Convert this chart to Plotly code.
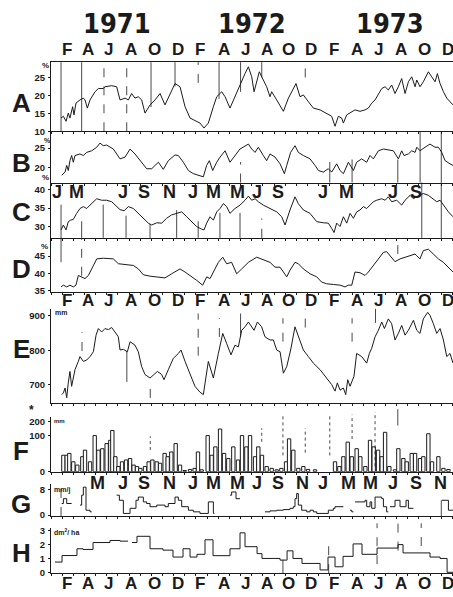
import plotly.graph_objects as go

# ---------------- DATA (x in months since 1 Jan 1971) ----------------
years = ["1971", "1972", "1973"]
year_pos = [5.9, 18.0, 30.4]

main_labels = ["F", "A", "J", "A", "O", "D"] * 3
main_pos = [1.4, 3.3, 5.2, 7.2, 9.3, 11.4, 13.4, 15.5, 17.4, 19.4, 21.3, 23.3,
            25.4, 27.4, 29.4, 31.4, 33.5, 35.6]
c_labels = ["J", "M", "J", "S", "N", "J", "M", "M", "J", "S", "J", "M", "J", "S"]
c_pos = [0.54, 2.33, 6.46, 8.34, 10.67, 12.74, 14.53, 16.68, 18.48, 20.36,
         24.39, 26.46, 30.67, 32.74]
g_labels = ["M", "J", "S", "N", "J", "M", "M", "J", "S", "N", "J", "M", "M", "J", "S", "N"]
g_pos = [4.13, 6.46, 8.34, 10.67, 12.74, 14.53, 16.68, 18.48, 20.36, 22.51,
         24.39, 26.64, 28.61, 30.67, 32.74, 34.89]

a_x = [0.90, 1.11, 1.35, 1.55, 1.70, 1.94, 2.06, 2.24, 2.60, 2.90, 3.05, 3.26, 3.50, 3.95, 4.25,
       4.69, 4.84, 5.44, 5.89, 6.19, 6.64, 6.94, 7.23, 7.53, 7.83, 8.13, 8.43, 8.88, 9.33, 9.78,
       10.22, 10.67, 11.12, 11.57, 12.02, 12.47, 13.06, 13.36, 13.72, 14.11, 14.56, 14.86, 15.31,
       15.61, 16.05, 16.50, 16.95, 17.40, 17.70, 18.00, 18.21, 18.45, 18.68, 19.04, 19.34, 19.64,
       19.79, 20.24, 20.84, 21.29, 21.58, 21.97, 22.33, 22.63, 23.08, 23.53, 24.13, 24.72, 25.17,
       25.47, 25.77, 26.07, 26.22, 26.52, 26.97, 27.26, 27.71, 28.16, 28.46, 28.76, 29.06, 29.36,
       29.66, 29.96, 30.25, 30.55, 30.85, 31.15, 31.45, 31.75, 32.05, 32.35, 32.65, 32.80, 33.09,
       33.39, 33.84, 34.14, 34.44, 34.65, 34.89, 35.19, 35.49, 35.78, 36.05]
a_v = [13.7, 14.2, 12.8, 15.1, 13.7, 16.9, 14.6, 17.9, 18.8, 19.3, 18.8, 16.5, 18.8, 21.1, 22.0,
       22.0, 22.5, 22.8, 22.5, 18.8, 19.3, 18.8, 20.6, 19.3, 19.7, 18.8, 15.1, 17.4, 18.8, 20.6,
       17.4, 20.6, 23.4, 22.5, 16.9, 13.7, 12.8, 12.3, 10.9, 12.3, 16.9, 19.7, 21.1, 19.7, 16.5,
       19.7, 23.4, 26.2, 28.1, 25.3, 21.1, 24.4, 26.7, 24.4, 22.5, 19.7, 21.1, 18.8, 15.6, 19.3,
       21.1, 23.4, 19.7, 20.2, 18.3, 16.5, 16.0, 15.1, 14.2, 11.4, 14.2, 13.7, 12.3, 14.6, 15.6,
       16.0, 15.6, 16.0, 16.5, 17.9, 18.8, 20.6, 22.0, 22.5, 21.6, 23.0, 20.6, 22.5, 24.8, 20.6,
       23.9, 25.3, 22.5, 24.4, 22.5, 23.9, 26.7, 25.3, 23.9, 26.2, 23.4, 21.1, 19.3, 18.3, 17.4]

b_x = [0.96, 1.26, 1.41, 1.55, 1.70, 1.85, 2.00, 2.15, 2.60, 2.90, 3.20, 3.65, 4.10, 4.39, 4.69,
       4.99, 5.59, 6.19, 6.64, 7.09, 7.53, 8.13, 8.58, 9.03, 9.33, 9.63, 10.07, 10.52, 11.12,
       11.42, 11.87, 12.32, 12.77, 13.21, 13.66, 13.96, 14.20, 14.50, 14.86, 15.16, 15.61, 16.05,
       16.50, 16.95, 17.70, 18.00, 18.30, 18.59, 19.04, 19.34, 19.64, 20.09, 20.54, 20.93, 21.14,
       21.49, 21.88, 22.18, 22.63, 23.23, 23.68, 23.98, 24.42, 24.87, 25.17, 25.62, 25.92, 26.22,
       26.67, 26.97, 27.12, 27.41, 27.86, 28.31, 28.61, 28.91, 29.36, 29.81, 30.25, 30.70, 31.15,
       31.45, 31.66, 32.05, 32.35, 32.65, 32.80, 33.09, 33.54, 33.99, 34.44, 34.74, 35.04, 35.34,
       35.78, 36.05]
b_v = [18.1, 18.9, 20.6, 19.3, 21.8, 23.1, 21.4, 23.1, 23.5, 23.1, 23.9, 24.3, 25.2, 26.25, 25.6,
       25.75, 24.75, 22.25, 22.7, 24.75, 23.5, 21.4, 19.75, 19.75, 20.6, 21.4, 19.6, 21.8, 23.25,
       23.1, 21.4, 19.3, 18.5, 18.1, 17.7, 20.6, 21.8, 19.3, 21.4, 22.7, 24.3, 21.4, 23.1, 24.75,
       26.0, 24.75, 23.9, 25.2, 23.1, 21.8, 23.5, 22.7, 21.0, 18.5, 20.6, 23.9, 25.6, 23.9, 23.1,
       22.25, 20.6, 19.3, 18.9, 19.75, 18.9, 21.0, 19.3, 18.5, 21.4, 19.75, 19.3, 21.4, 22.25,
       21.4, 23.1, 22.25, 24.3, 24.75, 24.6, 24.3, 22.25, 24.3, 23.1, 23.5, 24.3, 23.9, 25.2, 24.3,
       25.2, 26.0, 25.2, 25.2, 23.9, 21.8, 21.0, 20.6]

c_x = [0.90, 1.11, 1.35, 1.55, 1.76, 2.00, 2.30, 2.60, 2.90, 3.20, 3.50, 3.80, 4.10, 4.54, 4.99,
       5.44, 5.74, 6.19, 6.55, 6.94, 7.38, 7.83, 8.28, 8.73, 9.03, 9.48, 9.93, 10.37, 10.82, 11.27,
       11.72, 12.17, 12.62, 13.06, 13.51, 13.72, 13.96, 14.26, 14.56, 14.86, 15.16, 15.46, 15.75,
       16.05, 16.50, 16.95, 17.40, 17.70, 18.00, 18.30, 18.59, 19.04, 19.64, 20.24, 20.69, 20.99,
       21.43, 21.88, 22.18, 22.63, 23.23, 23.83, 24.42, 24.87, 25.17, 25.38, 25.62, 25.92, 26.22,
       26.52, 26.82, 27.12, 27.41, 27.71, 28.01, 28.31, 28.61, 28.91, 29.21, 29.66, 29.96, 30.25,
       30.55, 31.00, 31.45, 31.75, 32.20, 32.50, 32.80, 33.09, 33.39, 33.84, 34.29, 34.59, 34.89,
       35.19, 35.64, 36.05]
c_v = [29.2, 30.5, 29.2, 31.4, 31.8, 32.0, 33.6, 34.9, 35.4, 34.9, 35.8, 36.7, 37.5, 37.1, 37.1,
       36.7, 35.8, 34.6, 34.3, 35.4, 34.9, 33.6, 32.3, 31.0, 30.5, 31.1, 31.0, 32.3, 33.2, 33.6,
       34.0, 32.7, 31.4, 30.1, 29.4, 29.2, 31.0, 32.7, 31.8, 34.0, 34.9, 36.2, 35.4, 33.6, 34.9,
       35.8, 37.1, 38.2, 37.1, 37.5, 36.7, 35.8, 34.9, 34.0, 32.7, 30.5, 34.5, 38.0, 36.2, 34.5,
       33.6, 31.4, 31.1, 31.0, 29.6, 28.5, 31.0, 30.1, 32.7, 31.0, 33.6, 32.3, 34.0, 34.5, 35.4,
       34.9, 35.8, 36.7, 37.1, 37.5, 37.1, 38.0, 36.7, 37.1, 35.8, 37.1, 38.4, 37.5, 38.0, 38.4,
       38.9, 38.4, 37.5, 36.7, 37.1, 35.8, 34.0, 32.7]

d_x = [0.90, 1.11, 1.41, 1.70, 2.00, 2.24, 2.45, 2.75, 3.05, 3.35, 3.65, 3.95, 4.10, 4.69, 5.29,
       5.59, 6.04, 6.79, 7.38, 7.83, 8.28, 8.88, 9.48, 10.22, 10.82, 11.57, 12.02, 12.47, 13.06,
       13.60, 13.96, 14.26, 14.56, 15.01, 15.40, 15.75, 16.20, 16.65, 17.10, 17.70, 18.45, 19.04,
       19.64, 20.09, 20.54, 20.84, 21.14, 21.43, 21.88, 22.18, 22.63, 23.23, 23.83, 24.27, 24.72,
       25.32, 25.92, 26.37, 26.67, 26.97, 27.26, 27.71, 28.16, 28.46, 28.91, 29.36, 29.81, 30.10,
       30.40, 30.85, 31.30, 31.75, 32.20, 32.65, 32.80, 33.09, 33.39, 33.84, 34.29, 34.74, 35.19,
       35.64, 36.05]
d_v = [36.1, 36.6, 36.1, 36.6, 36.1, 36.6, 39.4, 39.0, 38.5, 39.4, 41.3, 43.2, 44.2, 44.4, 44.4,
       44.2, 42.8, 42.5, 42.3, 41.3, 39.6, 39.2, 39.0, 38.7, 39.9, 41.3, 40.4, 39.4, 38.0, 36.6,
       39.0, 38.5, 40.4, 43.2, 44.7, 42.8, 43.2, 39.9, 41.3, 43.2, 44.7, 44.0, 43.2, 41.8, 41.8,
       40.4, 39.0, 40.9, 43.2, 42.8, 41.3, 39.9, 39.0, 37.5, 37.0, 36.8, 36.6, 36.1, 36.6, 36.6,
       40.4, 40.2, 39.4, 40.4, 42.3, 44.2, 46.1, 46.3, 45.1, 43.4, 44.2, 44.7, 45.0, 45.6, 45.1,
       44.2, 46.6, 47.0, 45.6, 44.2, 43.2, 41.8, 40.4]

e_x = [0.96, 1.11, 1.26, 1.41, 1.55, 1.70, 1.85, 2.00, 2.15, 2.45, 2.60, 2.90, 3.20, 3.50, 3.80,
       4.04, 4.25, 4.54, 4.84, 5.14, 5.44, 5.74, 6.04, 6.19, 6.49, 6.85, 7.09, 7.53, 7.83, 8.13,
       8.43, 8.88, 9.18, 9.54, 9.93, 10.13, 10.52, 10.97, 11.42, 11.66, 12.02, 12.47, 12.91, 13.36,
       13.66, 14.11, 14.56, 15.01, 15.40, 15.75, 16.14, 16.50, 16.80, 17.10, 17.40, 17.70, 18.00,
       18.21, 18.51, 18.89, 19.19, 19.64, 19.94, 20.24, 20.54, 20.84, 21.14, 21.49, 21.88, 22.18,
       22.63, 23.08, 23.53, 24.13, 24.72, 25.17, 25.47, 25.68, 25.92, 26.22, 26.43, 26.61, 26.82,
       27.17, 27.41, 27.86, 28.31, 28.55, 28.76, 29.06, 29.36, 29.66, 29.90, 30.25, 30.55, 30.85,
       31.15, 31.45, 31.75, 32.05, 32.50, 32.80, 33.09, 33.39, 33.78, 33.99, 34.29, 34.59, 34.89,
       35.19, 35.49, 35.78, 36.05]
e_v = [672, 677, 691, 663, 706, 739, 696, 720, 744, 768, 782, 768, 772, 782, 796, 844, 863, 853,
       863, 860, 866, 853, 839, 801, 803, 796, 825, 815, 796, 753, 730, 720, 730, 739, 730, 715,
       744, 777, 791, 801, 768, 730, 696, 679, 672, 768, 720, 791, 849, 820, 787, 815, 810, 858,
       868, 882, 868, 858, 882, 868, 839, 830, 830, 801, 796, 734, 753, 801, 868, 839, 801, 782,
       763, 744, 720, 701, 682, 706, 685, 691, 672, 715, 696, 725, 791, 782, 763, 791, 806, 839,
       858, 882, 863, 891, 877, 830, 849, 872, 844, 858, 887, 858, 849, 891, 910, 901, 877, 849,
       863, 830, 782, 791, 763]

f_x = [1.11, 1.41, 1.64, 2.00, 2.36, 2.81, 3.05, 3.50, 3.92, 4.25, 4.60, 4.99, 5.32, 5.50, 5.77,
       6.04, 6.37, 6.73, 7.09, 7.41, 7.71, 8.01, 8.43, 8.76, 9.09, 9.48, 9.78, 10.19, 10.46, 10.79,
       11.18, 11.57, 11.99, 12.47, 12.88, 13.18, 13.51, 14.05, 14.41, 14.74, 15.16, 15.52, 15.90,
       16.35, 16.77, 17.13, 17.52, 17.85, 18.30, 18.59, 18.92, 19.34, 19.79, 20.24, 20.66, 21.08,
       21.35, 21.73, 22.18, 22.63, 23.05, 23.68, 25.47, 25.86, 26.22, 26.61, 26.97, 27.41, 27.74,
       28.19, 28.61, 28.94, 29.33, 29.66, 29.96, 30.34, 30.85, 31.15, 31.60, 31.90, 32.35, 32.65,
       33.09, 33.39, 33.84, 34.17, 34.74, 35.19, 35.64]
f_v = [45, 45, 50, 27, 18, 41, 59, 27, 99, 59, 63, 77, 86, 113, 41, 14, 27, 32, 36, 18, 14, 9, 14,
       27, 32, 27, 23, 50, 41, 54, 77, 18, 3, 6, 9, 54, 5, 99, 45, 68, 117, 50, 36, 68, 32, 99, 68,
       99, 41, 68, 45, 14, 9, 5, 9, 27, 90, 59, 9, 14, 6, 5, 27, 14, 41, 81, 41, 63, 41, 14, 86, 68,
       59, 41, 108, 14, 5, 63, 36, 27, 50, 50, 36, 41, 104, 27, 41, 9, 6]

g_x = [0.96, 1.11, 1.41, 1.85, None,
       2.60, 2.75, 2.90, 3.14, 3.50, 3.65, None,
       5.89, 6.13, 6.49, 7.09, 7.62, 7.83, 8.28, 8.58, 8.88, 9.48, 10.22, 10.52, 11.12, 11.42,
       11.72, 12.32, 12.77, 13.36, 14.11, 14.56, 14.65, None,
       16.05, 16.20, 16.59, 16.95, None,
       19.19, 19.64, 20.24, 20.84, 21.43, 21.73, 21.88, 22.03, 22.18, 22.48, 22.93, 23.23, 23.53,
       23.83, 24.87, 25.32, 25.47, 26.22, None,
       26.82, 26.97, 27.12, None,
       27.26, 28.16, 28.31, 28.61, 28.76, 29.06, 29.66, 29.81, 30.10, 30.25, None,
       30.40, 30.85, 31.30, 31.84, 32.05, 32.50, None,
       35.04, 35.64, 36.05]
g_v = [3.6, 5.1, 3.6, 3.6, None,
       3.1, 6.2, 8.7, 1.5, 1.0, 1.0, None,
       6.2, 4.6, 0.5, 2.1, 4.6, 5.6, 4.1, 3.6, 2.6, 3.1, 2.6, 3.6, 5.6, 4.6,
       2.6, 1.5, 1.0, 0.5, 4.1, 0.5, 0.5, None,
       6.2, 7.2, 5.1, 5.1, None,
       1.0, 1.3, 1.5, 1.7, 2.1, 2.6, 5.1, 6.7, 3.1, 1.5, 1.0, 1.5, 1.0,
       0.5, 1.5, 2.1, 2.6, 2.6, None,
       1.5, 1.0, 1.0, None,
       4.1, 4.6, 2.6, 4.1, 2.1, 5.6, 5.1, 2.6, 1.0, 1.0, None,
       2.6, 4.6, 2.6, 4.6, 2.1, 2.1, None,
       4.6, 1.5, 1.5]

h_x = [0.36, 0.99, 2.33, 2.87, 3.77, 5.29, 6.19, 6.91, None,
       7.26, 7.71, 8.88, 10.04, 10.94, 11.84, 12.47, 13.09, 13.81, 14.53, 16.05, 16.95, 17.40,
       18.48, 18.92, 20.54, 21.17, 21.70, 22.51, 24.13, 24.84, 25.47, 26.19, 27.09, 27.89, 29.24,
       31.12, 31.57, 33.99, 34.89, 35.52, 36.05]
h_v = [0.74, 1.21, 1.7, 1.65, 2.15, 2.3, 2.25, 2.25, None,
       2.15, 2.6, 1.7, 1.6, 1.1, 1.7, 1.1, 1.3, 2.35, 1.2, 1.7, 2.85, 1.85,
       1.35, 1.0, 0.88, 1.55, 1.0, 0.64, 0.17, 1.1, 0.4, 1.15, 2.05, 1.3, 1.75,
       2.0, 1.4, 1.1, 1.0, 0.0, 0.0]

# ---------------- LAYOUT ----------------
W, H = 453, 597
INK = "#1b1b1b"
FONT = "Liberation Sans, Arial, sans-serif"
NARROW = "DejaVu Sans Condensed, Liberation Sans Narrow, Arial Narrow, Roboto Condensed, Liberation Sans, sans-serif"
X_RANGE = [0, 36.05]
X_LEFT = 51 / W

# panel key, top px, bottom px, y range, tickvals, ticktext
panels = [
    ("A", 60, 130, [10, 29.4], [10, 15, 20, 25], ["10", "15", "20", "25"]),
    ("B", 130, 182, [16.25, 29.25], [20, 25], ["20", "25"]),
    ("C", 182, 238, [27.1, 41.8], [30, 35, 40], ["30", "35", "40"]),
    ("D", 238, 293, [34.6, 50.3], [35, 40, 45], ["35", "40", "45"]),
    ("E", 310, 405, [649, 920], [700, 800, 900], ["700", "800", "900"]),
    ("F", 420, 475, [0, 149], [0, 100, 138], ["0", "100", "200"]),
    ("G", 488, 520, [-0.31, 9.54], [0, 8], ["0", "8"]),
    ("H", 532, 578, [-0.07, 3.21], [0, 1, 2, 3], ["0", "1", "2", "3"]),
]
idx = {p[0]: i + 1 for i, p in enumerate(panels)}


def py(v):
    return 1 - v / H


fig = go.Figure()
layout = dict(width=W, height=H, margin=dict(l=0, r=0, t=0, b=0),
              paper_bgcolor="white", plot_bgcolor="white", showlegend=False,
              font=dict(family=FONT, color=INK))

for i, (key, top, bot, rng, tv, tt) in enumerate(panels):
    n = i + 1
    sfx = "" if n == 1 else str(n)
    layout["xaxis" + sfx] = dict(domain=[X_LEFT, 1], range=X_RANGE, anchor="y" + sfx,
                                 showgrid=False, zeroline=False, showline=True,
                                 linecolor=INK, linewidth=1.2, mirror=(key == "A"),
                                 ticks="outside", ticklen=2, tickcolor=INK, dtick=1, tick0=0,
                                 showticklabels=False, fixedrange=True)
    layout["yaxis" + sfx] = dict(domain=[py(bot), py(top)], range=rng, anchor="x" + sfx,
                                 showgrid=False, zeroline=False, showline=True,
                                 linecolor=INK, linewidth=1.2, ticks="outside", ticklen=2,
                                 tickcolor=INK, tickvals=tv, ticktext=tt,
                                 tickfont=dict(size=9.5, family=FONT, color=INK, weight="bold"),
                                 ticklabelstandoff=1, fixedrange=True)

line_sty = dict(color=INK, width=1)
series = [("A", a_x, a_v), ("B", b_x, b_v), ("C", c_x, c_v), ("D", d_x, d_v), ("E", e_x, e_v)]
for key, xs, ys in series:
    n = idx[key]
    sfx = "" if n == 1 else str(n)
    fig.add_trace(go.Scatter(x=xs, y=ys, mode="lines", line=line_sty,
                             xaxis="x" + sfx, yaxis="y" + sfx, hoverinfo="skip"))

n = idx["F"]
fig.add_trace(go.Bar(x=f_x, y=f_v, width=0.3, xaxis=f"x{n}", yaxis=f"y{n}",
                     marker=dict(color="white", line=dict(color=INK, width=1)),
                     hoverinfo="skip"))
for key, xs, ys in [("G", g_x, g_v), ("H", h_x, h_v)]:
    n = idx[key]
    fig.add_trace(go.Scatter(x=xs, y=ys, mode="lines", line=dict(color=INK, width=1, shape="hv"),
                             connectgaps=False, xaxis=f"x{n}", yaxis=f"y{n}", hoverinfo="skip"))

# decorative month-marker lines seen in the original figure
vlines = [
    (0.9, "A", 0, 1, "solid"), (2.75, "A", 0, 1, "solid"), (4.75, "A", 0, 1, "dash"),
    (6.79, "A", 0, 1, "dash"), (8.97, "A", 0.35, 1, "solid"), (11.12, "A", 0.65, 1, "solid"),
    (13.2, "A", 0.7, 1, "dash"), (15.07, "A", 0.47, 1, "solid"), (17.0, "A", 0.57, 1, "solid"),
    (18.9, "A", 0.78, 1, "solid"), (22.8, "A", 0.78, 1, "dash"),
    (33.1, "B", 0, 1, "solid"), (35.0, "B", 0, 1, "solid"), (31.1, "B", 0, 0.45, "solid"),
    (27.0, "B", 0, 0.45, "solid"), (25.0, "B", 0, 0.4, "solid"), (17.0, "B", 0, 0.4, "dash"),
    (0.9, "C", 0, 0.6, "solid"), (2.75, "C", 0, 0.3, "solid"), (4.68, "C", 0, 0.6, "solid"),
    (6.73, "C", 0, 0.4, "solid"), (8.88, "C", 0, 0.25, "solid"), (11.27, "C", 0, 0.5, "solid"),
    (13.2, "C", 0, 0.3, "solid"), (15.15, "C", 0, 0.45, "solid"), (16.95, "C", 0, 0.45, "solid"),
    (18.9, "C", 0, 0.35, "dash"), (33.25, "C", 0, 1, "solid"), (35.0, "C", 0, 1, "solid"),
    (0.9, "D", 0.55, 1, "solid"), (2.75, "D", 0.3, 1, "dash"), (31.1, "D", 0.7, 1, "dash"),
    (2.78, "E", 0.55, 0.75, "dash"), (6.8, "E", 0.22, 0.55, "solid"), (8.9, "E", 0.05, 0.2, "dash"),
    (13.2, "E", 0.5, 0.95, "dash"), (15.1, "E", 0.7, 0.9, "dash"), (17.0, "E", 0.7, 0.95, "solid"),
    (20.8, "E", 0.65, 0.9, "dash"), (22.8, "E", 0.8, 1.0, "dash"), (27.0, "E", 0.65, 0.9, "dash"),
    (29.1, "E", 0.85, 1.0, "solid"),
    (8.9, "F", 0.4, 0.65, "dot"), (18.9, "F", 0.55, 0.8, "dot"), (20.8, "F", 0.3, 1.05, "dot"),
    (22.8, "F", 0.35, 0.8, "dot"), (25.0, "F", 0.3, 1.05, "dot"), (27.0, "F", 0.6, 1.05, "dot"),
    (29.06, "F", 0.1, 1.1, "dot"), (31.1, "F", 0.85, 1.15, "solid"),
    (0.9, "G", 0, 1, "dash"), (35.0, "G", 0, 0.5, "solid"),
    (24.9, "H", 0.0, 0.75, "dash"), (29.24, "H", 0.2, 1.1, "dash"), (31.12, "H", 0.5, 1.1, "dash"),
    (33.2, "H", 0.6, 1.1, "dash"), (20.8, "H", 0.0, 0.3, "solid"),
]
shapes = []
for m, key, f0, f1, dash in vlines:
    n = idx[key]
    sfx = "" if n == 1 else str(n)
    shapes.append(dict(type="line", xref="x" + sfx, yref=f"y{sfx} domain", x0=m, x1=m,
                       y0=f0, y1=f1, line=dict(color=INK, width=0.8, dash=dash)))
layout["shapes"] = shapes

ann = []


def text(t, xv, yv, size, xref="paper", family=FONT, bold=True, xanchor="center"):
    ann.append(dict(text=t, x=xv, y=yv, xref=xref, yref="paper", showarrow=False,
                    xanchor=xanchor, yanchor="middle",
                    font=dict(size=size, family=family, color=INK,
                              weight="bold" if bold else "normal")))


# years
for t, m in zip(years, year_pos):
    text(t, m, py(21), 27, xref="x", family=NARROW)
# month rows
for row_y in (47, 302, 588):
    for t, m in zip(main_labels, main_pos):
        text(t, m, py(row_y), 17, xref="x")
for t, m in zip(c_labels, c_pos):
    text(t, m, py(192), 18, xref="x")
for t, m in zip(g_labels, g_pos):
    text(t, m, py(487), 18, xref="x")
# panel letters
letter_y = {"A": 101, "B": 162, "C": 212, "D": 270, "E": 351, "F": 454, "G": 508, "H": 557}
for k, yv in letter_y.items():
    text(k, 21 / W, py(yv), 26)
# units
for xv, yv, sz in [(45, 63, 8), (47, 139, 7), (45, 177, 8), (44, 247, 8)]:
    text("%", xv / W, py(yv), sz)
text("mm", 53 / W, py(314), 7, xanchor="left")
text("mm", 52 / W, py(424), 6, xanchor="left")
text("mm/j", 52 / W, py(494), 7, xanchor="left")
text("dm<sup>2</sup>/ ha", 52 / W, py(536), 7, xanchor="left")
text("*", 31 / W, py(413), 12)
layout["annotations"] = ann

fig.update_layout(**layout)
fig.write_html("out.html", config={"displayModeBar": False},
               post_script="document.body.style.margin='0';document.body.style.overflow='hidden';")
